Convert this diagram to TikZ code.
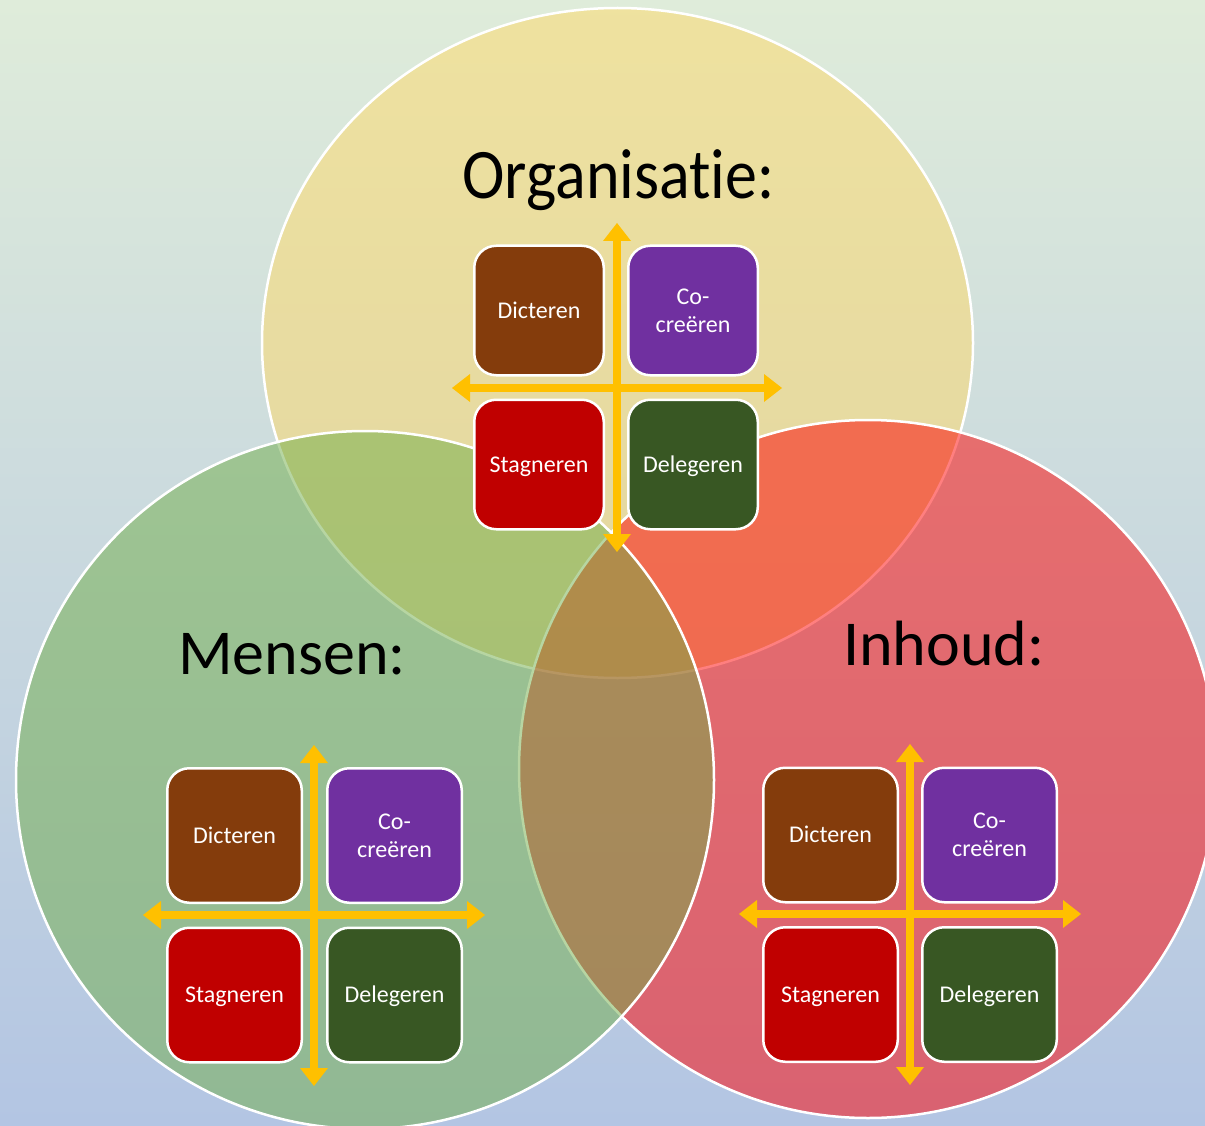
\documentclass[tikz,border=0pt]{standalone}
\usepackage{fontspec}
\setmainfont{Carlito}[Ligatures={NoCommon}]
\usetikzlibrary{arrows.meta}
\definecolor{bgtop}{RGB}{223,236,218}
\definecolor{bgbot}{RGB}{179,197,227}
\definecolor{cyel}{HTML}{FFD966}
\definecolor{cred}{HTML}{FF0000}
\definecolor{cgrn}{HTML}{70AD47}
\definecolor{cgold}{HTML}{FFC000}
\definecolor{bdic}{HTML}{843C0C}
\definecolor{bco}{HTML}{7030A0}
\definecolor{bstag}{HTML}{C00000}
\definecolor{bdel}{HTML}{385723}
\begin{document}
\begin{tikzpicture}[x=1pt,y=-1pt,
  circ/.style={draw=white,line width=2.5pt,fill opacity=0.5},
  qbox/.style={rectangle,rounded corners=22pt,draw=white,line width=2.5pt,
    inner sep=0pt,text=white,font=\fontsize{24}{27.6}\selectfont},
  qone/.style={qbox,text height=15.2pt,text depth=0pt},
  qtwo/.style={qbox,align=center},
  qtop/.style={minimum width=129.5pt,minimum height=129.5pt},
  qbot/.style={minimum width=134.5pt,minimum height=134.5pt},
  quadarrow/.style={draw=cgold,line width=8pt,
    {Triangle[width=28pt,length=18pt,line width=0pt]}-{Triangle[width=28pt,length=18pt,line width=0pt]}},
  title/.style={anchor=base,text=black,font=\fontsize{64}{70}\selectfont}
]
\useasboundingbox (0,0) rectangle (1205,1126);
\shade[top color=bgtop,bottom color=bgbot] (0,0) rectangle (1205,1126);

% circles
\path[circ,fill=cyel] (617.5,343) ellipse [x radius=355.5,y radius=335];
\path[circ,fill=cred] (868,769) ellipse [x radius=349,y radius=349];
\path[circ,fill=cgrn] (365,780) ellipse [x radius=349,y radius=349];

% titles
\node[title,transform shape,yscale=1.11] (torg) at (618.5,199) {Organisat\kern0pt ie:};
\node[title] (tmen) at (292,674) {Mensen:};
\node[title] (tinh) at (944,665) {Inhoud:};

% top group
\node[qone,qtop,fill=bdic] (od) at (539,310.5) {Dicteren};
\node[qtwo,qtop,fill=bco] (oc) at (693,310.5) {Co-\\creëren};
\node[qone,qtop,fill=bstag] (os) at (539,464.5) {Stagneren};
\node[qone,qtop,fill=bdel] (ol) at (693,464.5) {Delegeren};
\coordinate (oN) at (617,223);
\coordinate (oS) at (617,552);
\coordinate (oW) at (452,388);
\coordinate (oE) at (782,388);
\draw[quadarrow] (oN) -- (oS);
\draw[quadarrow] (oW) -- (oE);

% left group
\node[qone,qbot,fill=bdic] (md) at (234.5,835.5) {Dicteren};
\node[qtwo,qbot,fill=bco] (mc) at (394.5,835.5) {Co-\\creëren};
\node[qone,qbot,fill=bstag] (ms) at (234.5,995) {Stagneren};
\node[qone,qbot,fill=bdel] (ml) at (394.5,995) {Delegeren};
\coordinate (mN) at (314,745);
\coordinate (mS) at (314,1086);
\coordinate (mW) at (143,915);
\coordinate (mE) at (485,915);
\draw[quadarrow] (mN) -- (mS);
\draw[quadarrow] (mW) -- (mE);

% right group
\node[qone,qbot,fill=bdic] (id) at (830.5,835) {Dicteren};
\node[qtwo,qbot,fill=bco] (ic) at (989.5,835) {Co-\\creëren};
\node[qone,qbot,fill=bstag] (is) at (830.5,994.5) {Stagneren};
\node[qone,qbot,fill=bdel] (il) at (989.5,994.5) {Delegeren};
\coordinate (iN) at (910,744);
\coordinate (iS) at (910,1085);
\coordinate (iW) at (739,914);
\coordinate (iE) at (1081,914);
\draw[quadarrow] (iN) -- (iS);
\draw[quadarrow] (iW) -- (iE);
\end{tikzpicture}
\end{document}
